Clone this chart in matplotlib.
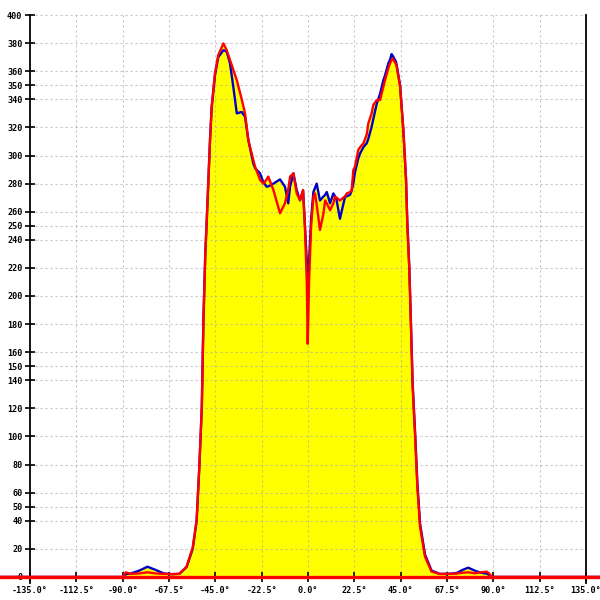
### Angular intensity profile - two measurements, yellow fill under curves ###
import numpy as np
import matplotlib
matplotlib.use("Agg")
import matplotlib.pyplot as plt

### Data ###
# angle in degrees, shared by both series
angles = [-150, -90, -88.5, -86, -82, -78, -74, -70, -66, -62.5, -59, -56, -54.1,
          -52.8, -51.6, -50.8, -49.9, -49.2, -48.4, -47.6, -46.8, -45.2, -43.6,
          -41.1, -39.5, -37.9, -36.3, -34.6, -32.2, -30.6, -29, -26.6, -25.7,
          -23.3, -21.7, -20.1, -19.3, -16.8, -13.6, -11.2, -9.6, -8.7, -7.1,
          -5.5, -3.9, -2.4, -1.5, -0.6, -0.15, 0.5, 1.5, 2.6, 3.4, 4.2, 5.8,
          7.4, 8.3, 9.1, 10.7, 12.3, 13.1, 13.9, 15.5, 18, 18.8, 20.4, 21.2,
          22, 22.8, 24.4, 25.3, 26.9, 28.5, 29.3, 30.9, 31.7, 33.4, 35, 36.6,
          37.4, 39, 39.8, 40.6, 41.1, 42.7, 43.1, 44.7, 46.3, 47.6, 48.2, 49.2,
          49.9, 50.8, 52, 53.1, 54.4, 56.8, 60, 64, 68, 72.2, 75, 77.8, 81, 84,
          86.8, 88, 89.2, 150]

blue_vals = [0, 0, 2, 2.5, 4.5, 7.3, 5, 2.5, 2, 2.2, 7, 20, 40,
             78, 120, 183, 230, 253, 282, 311, 334, 357, 370,
             375, 374, 365.6, 349, 330, 331, 327.6, 311, 294.4, 291,
             287.3, 281, 277.8, 278, 280, 283, 277.8, 266, 278, 287.3,
             275.4, 268, 275, 250, 225, 204, 225, 255, 274, 277, 280, 268,
             270.7, 272, 274, 266, 273, 271, 268, 255, 270.7, 271, 272, 275,
             280, 288, 298, 301.5, 306, 308.7, 312, 320.5, 326, 337, 344, 353.7,
             357, 365.6, 368, 372.2, 371, 366.8, 364, 350, 318, 283, 253, 220,
             185, 138, 103, 67, 38, 16, 4.5, 2.2, 2.2, 2.8, 5, 6.6, 4.5, 3,
             2.4, 1.5, 0, 0]

red_vals = [0, 0, 3.3, 2.2, 2.5, 3.3, 2.5, 2.2, 2, 2.3, 7.3, 21, 40.6,
            78.5, 121, 183, 230, 254, 282.6, 311, 334.7, 358.5, 371.5,
            379.8, 375, 368, 361, 353.7, 340, 330, 311, 297, 292,
            282.6, 280, 283, 285, 275.4, 258.9, 266, 276, 285, 287.3,
            273, 268.3, 275.4, 249, 210, 166, 210, 250, 270.7, 273, 265, 247,
            258, 268, 266, 261, 266, 270.7, 270, 268, 271, 273, 274, 275.4,
            289.7, 292, 304, 306, 308.7, 315, 323, 330, 336, 339.5, 339.5, 349,
            353.7, 362, 365.6, 368, 369, 365, 363, 349, 318, 282.6, 252, 218.5,
            183, 135.4, 99.9, 64.3, 35.8, 14.4, 3.8, 2.1, 2.2, 2.4, 3, 3.3, 2.6, 3.3,
            3.8, 2.5, 0, 0]

x_ticks = [-135, -112.5, -90, -67.5, -45, -22.5, 0, 22.5, 45, 67.5, 90, 112.5, 135]
y_ticks = [0, 20, 40, 50, 60, 80, 100, 120, 140, 150, 160, 180, 200, 220, 240,
           250, 260, 280, 300, 320, 340, 350, 360, 380, 400]

### Plotting ###
fig = plt.figure(figsize=(6, 6), dpi=100)
ax = fig.add_axes([0, 0, 1, 1])
ax.set_xlim(-149.6, 141.8)
ax.set_ylim(-16.4, 410.7)
ax.patch.set_alpha(0)

# yellow area under both curves
ax.fill_between(angles, blue_vals, 0, color="#ffff00", lw=0, zorder=1)
ax.fill_between(angles, red_vals, 0, color="#ffff00", lw=0, zorder=1)

# dashed grid only inside the -135..135 / 0..400 frame
grid_style = dict(colors="#a8a8a8", linestyles=(0, (2, 2.5)), linewidth=0.8, alpha=0.65, zorder=1.5)
ax.hlines(y_ticks[1:], -135, 135, **grid_style)
ax.vlines(x_ticks[1:-1], 0, 400, **grid_style)

ax.plot(angles, blue_vals, color="#0000c8", lw=1.7, zorder=3)
ax.plot(angles, red_vals, color="#ff0000", lw=1.7, zorder=3.1)
ax.axhline(0, color="#ff0000", lw=2.4, zorder=3.2)  # baseline at zero

# axes crossing at (-135, 0), frame line on the right
ax.spines["left"].set_position(("data", -135))
ax.spines["right"].set_position(("data", 135))
ax.spines["bottom"].set_position(("data", 0))
ax.spines["top"].set_visible(False)
for side in ["left", "right"]:
    ax.spines[side].set_bounds(-4, 400)
    ax.spines[side].set_linewidth(1.3)
ax.spines["bottom"].set_linewidth(1)

ax.set_xticks(x_ticks)
ax.set_xticklabels([f"{t:.1f}\u00b0" for t in x_ticks])
ax.set_yticks(y_ticks)
ax.set_yticklabels([str(t) for t in y_ticks])
ax.tick_params(axis="both", direction="inout", length=7, width=1.2, colors="black",
               labelsize=6.1)
ax.tick_params(axis="y", pad=2)
ax.tick_params(axis="x", pad=3)
for lab in ax.get_xticklabels() + ax.get_yticklabels():
    lab.set_family("DejaVu Sans Mono")
    lab.set_fontweight("bold")
# last x label sits against the right edge, nudge it in a little
ax.get_xticklabels()[-1].set_x(132.6)

fig.savefig("out.png", dpi=100)
